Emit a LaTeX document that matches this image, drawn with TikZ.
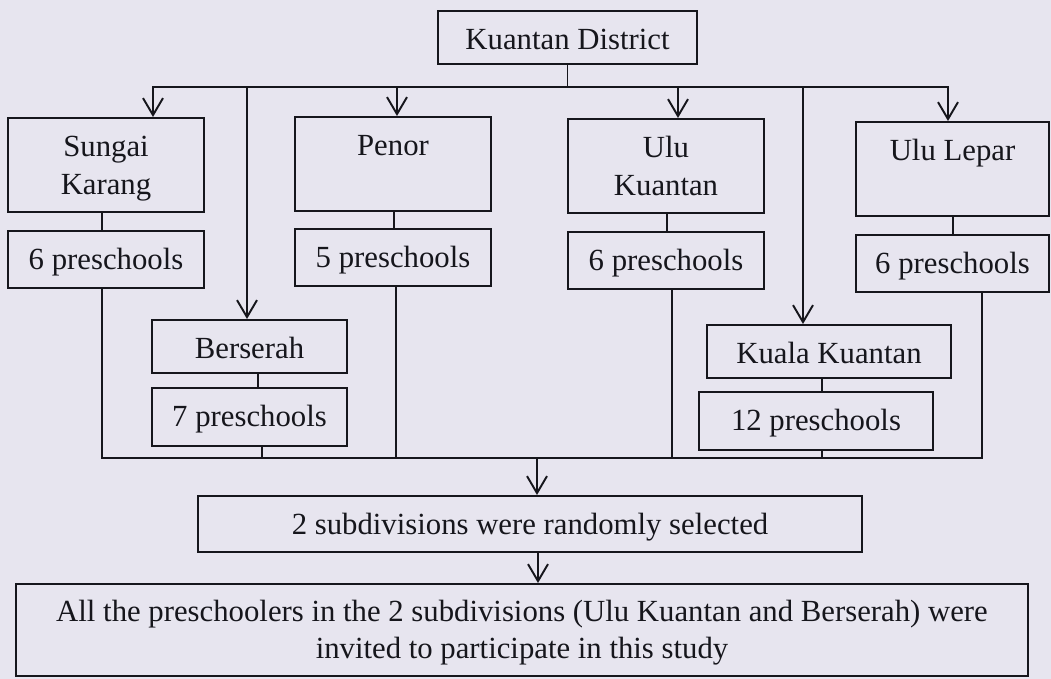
\documentclass[tikz,border=0pt]{standalone}
\usepackage{fontspec}
\setmainfont{Liberation Serif}
\usetikzlibrary{positioning,arrows.meta}
\definecolor{paper}{RGB}{231,229,239}
\definecolor{ink}{RGB}{22,22,28}

\begin{document}
\begin{tikzpicture}[x=0.02cm,y=-0.02cm,line width=1.1pt,line cap=rect,color=ink]
\tikzstyle{box}=[draw,fill=paper,inner sep=0pt,align=center,text height=0.77cm,font=\fontsize{17.5pt}{21.6pt}\selectfont]
\tikzstyle{area}=[box,minimum width=3.92cm,text depth=1.11cm]
\tikzstyle{twoline}=[text height=1.53cm,text depth=0.35cm]
\tikzstyle{count}=[box,minimum width=3.92cm,text depth=0.38cm]
\tikzstyle{town}=[box,text depth=0.3cm]
\tikzstyle{arr}=[-{Straight Barb[length=3.4mm,width=4mm]}]

\fill[paper] (0,0) rectangle (1051,679);

\node[box,minimum width=5.18cm,text depth=0.29cm,anchor=north] (district) at (567.5,10) {Kuantan District};

% subdivisions on the first row
\node[area,twoline,anchor=north] (sungai) at (106,117) {Sungai\\Karang};
\node[count,below=0.34cm of sungai] (sungai-c) {6 preschools};
\node[area,anchor=north] (penor) at (393,116) {Penor};
\node[count,below=0.32cm of penor] (penor-c) {5 preschools};
\node[area,twoline,anchor=north] (ulukuantan) at (666,118) {Ulu\\Kuantan};
\node[count,below=0.34cm of ulukuantan] (ulukuantan-c) {6 preschools};
\node[area,minimum width=3.86cm,anchor=north] (ululepar) at (952.5,121) {Ulu Lepar};
\node[count,minimum width=3.86cm,below=0.34cm of ululepar] (ululepar-c) {6 preschools};

% subdivisions on the second row
\node[town,minimum width=3.9cm,anchor=north] (berserah) at (249.5,319) {Berserah};
\node[count,minimum width=3.9cm,below=0.26cm of berserah] (berserah-c) {7 preschools};
\node[town,minimum width=4.88cm,anchor=north] (kuala) at (829,324) {Kuala Kuantan};
\node[count,minimum width=4.68cm,below=0.24cm of kuala,xshift=-0.26cm] (kuala-c) {12 preschools};

\node[box,minimum width=13.28cm,text depth=0.35cm,anchor=north] (chosen) at (530,495) {2 subdivisions were randomly selected};
\node[area,twoline,text height=1.5cm,minimum width=20.24cm,anchor=north] (invited) at (522,583) {All the preschoolers in the 2 subdivisions (Ulu Kuantan and Berserah) were\\invited to participate in this study};

% branching from the district
\coordinate (busW) at (153,87);
\coordinate (busE) at (948,87);
\draw (district) -- (district |- busW);
\draw (busW) -- (busE);
\foreach \x/\n in {153/sungai,247/berserah,397/penor,678/ulukuantan,803/kuala,948/ululepar}{
  \coordinate (top-\n) at (\x,87);
  \draw[arr] (top-\n) -- (top-\n |- \n.north);
}
\foreach \x/\n in {102/sungai,394/penor,258/berserah,667/ulukuantan,822/kuala,953/ululepar}
  \draw (\x,0 |- \n.south) -- (\x,0 |- \n-c.north);

% joining the counts
\coordinate (botW) at (102,458);
\coordinate (botE) at (982,458);
\coordinate (botM) at (537,458);
\draw (botW) -- (botE);
\foreach \x/\n in {102/sungai,396/penor,262/berserah,672/ulukuantan,822/kuala,982/ululepar}
  \draw (\x,0 |- \n-c.south) -- (\x,0 |- botW);
\draw[arr] (botM) -- (botM |- chosen.north);
\draw[arr] (538,0 |- chosen.south) -- (538,0 |- invited.north);
\end{tikzpicture}
\end{document}
